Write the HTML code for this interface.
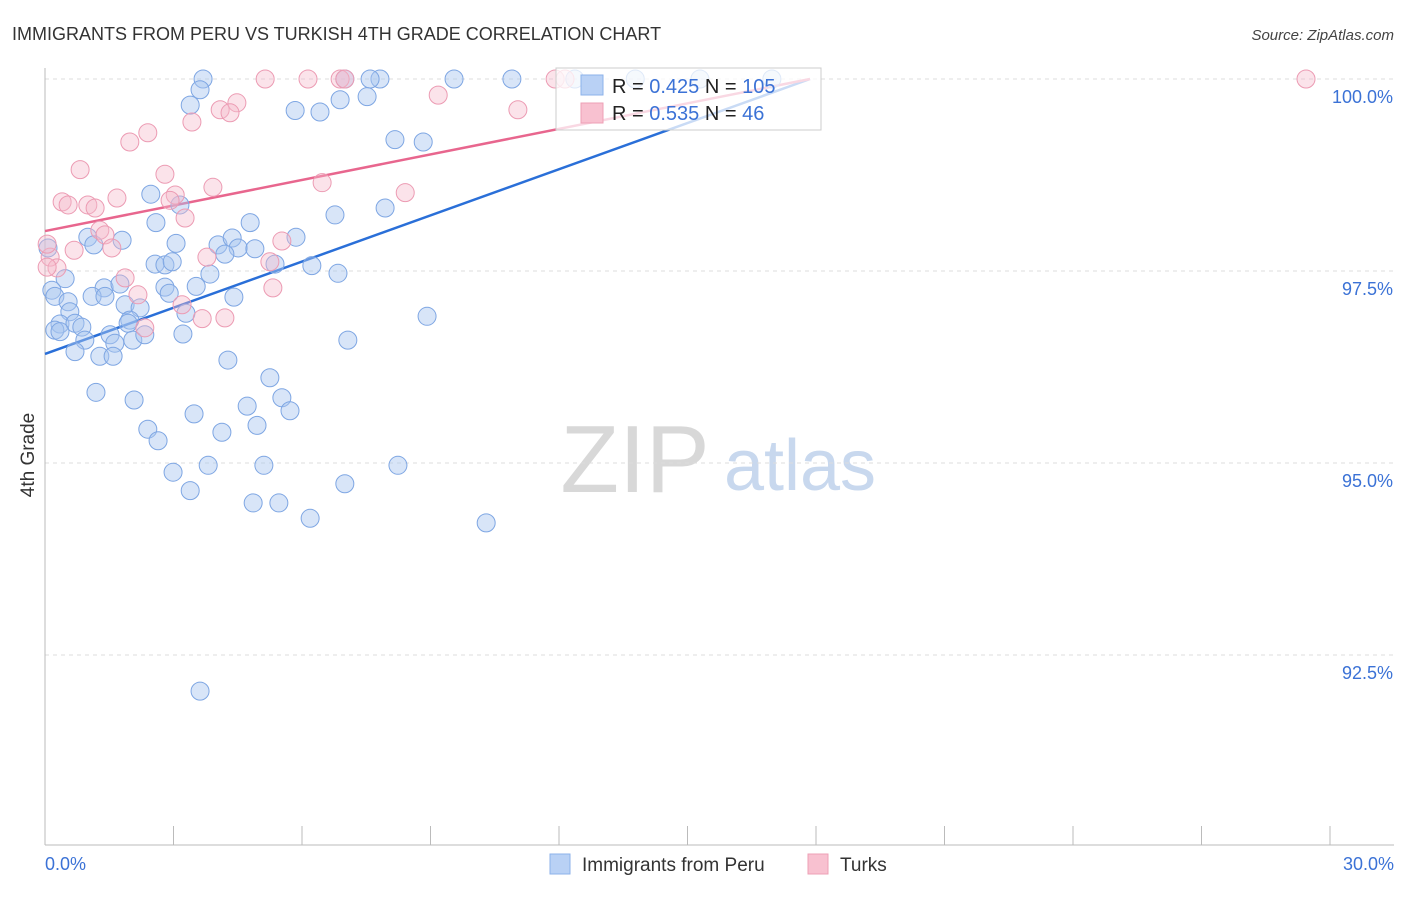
<!DOCTYPE html>
<html><head><meta charset="utf-8"><style>
body{margin:0;background:#fff;font-family:"Liberation Sans",sans-serif}
svg text{font-family:"Liberation Sans",sans-serif}
</style></head><body>
<svg id="chart" width="1406" height="892" viewBox="0 0 1406 892" xmlns="http://www.w3.org/2000/svg">
<text x="12" y="40" font-size="18" fill="#333">IMMIGRANTS FROM PERU VS TURKISH 4TH GRADE CORRELATION CHART</text>
<text x="1394" y="40" font-size="15" fill="#444" text-anchor="end" font-style="italic">Source: ZipAtlas.com</text>
<g>
<text x="635" y="492" font-size="96" fill="#d8d8d8" text-anchor="middle" font-family="Liberation Serif,serif">ZIP</text>
<text x="800" y="490" font-size="72" fill="#c8d8ee" text-anchor="middle">atlas</text>
</g>
<g id="grid"></g>
<g id="axes"></g>
<g id="lines"></g>
<g id="points"></g>
<g>
<rect x="556" y="68" width="265" height="62" fill="#fff" fill-opacity="0.75" stroke="#ccc"/>
<rect x="581" y="75" width="22" height="20" fill="#b9d1f5" stroke="#8cb2ea"/>
<text x="612" y="93" font-size="20" fill="#222">R = <tspan fill="#3b72d6">0.425</tspan>  N = <tspan fill="#3b72d6">105</tspan></text>
<rect x="581" y="103" width="22" height="20" fill="#f8c1d0" stroke="#eea0b6"/>
<text x="612" y="120" font-size="20" fill="#222">R = <tspan fill="#3b72d6">0.535</tspan>  N = <tspan fill="#3b72d6">  46</tspan></text>
</g>
<g>
<rect x="550" y="854" width="20" height="20" fill="#b9d1f5" stroke="#8cb2ea"/>
<text x="582" y="871" font-size="19" fill="#333">Immigrants from Peru</text>
<rect x="808" y="854" width="20" height="20" fill="#f8c1d0" stroke="#eea0b6"/>
<text x="840" y="871" font-size="19" fill="#333">Turks</text>
</g>
<text transform="translate(34,455) rotate(-90)" font-size="19" fill="#333" text-anchor="middle">4th Grade</text>
</svg>
<script>
const yTicks=[100,97.5,95,92.5];
const yTickLabels=["100.0%","97.5%","95.0%","92.5%"];
const xTicks=[0,3,6,9,12,15,18,21,24,27,30];
const peruX=[3.69,9.55,10.90,7.82,7.59,7.00,12.37,13.78,15.29,16.97,3.62,3.39,5.84,6.42,6.89,7.52,8.17,8.83,2.47,3.15,2.59,4.79,6.77,7.94,1.00,1.80,1.14,3.06,4.04,4.37,4.51,4.90,4.20,5.86,0.07,2.57,2.80,2.97,3.85,5.37,6.23,6.84,0.47,1.38,1.75,0.16,0.23,1.10,1.40,2.80,2.90,3.53,4.41,0.54,1.87,2.22,3.29,0.58,0.35,0.23,0.70,0.86,1.98,0.35,1.94,1.52,0.93,1.63,2.05,2.33,3.22,0.70,1.28,1.59,7.07,8.92,4.27,5.25,1.19,2.08,5.53,4.72,5.72,3.48,2.40,4.13,4.95,2.64,2.99,3.81,5.11,8.24,7.00,3.39,4.86,5.46,6.19,10.30,3.62];
const peruY=[100,100,100,100,100,100,100,100,100,100,99.86,99.66,99.59,99.57,99.73,99.77,99.21,99.18,98.50,98.36,98.13,98.13,98.23,98.32,97.94,97.90,97.84,97.86,97.84,97.93,97.80,97.79,97.72,97.94,97.80,97.59,97.58,97.62,97.46,97.59,97.57,97.47,97.40,97.28,97.33,97.25,97.17,97.17,97.17,97.29,97.21,97.30,97.16,97.10,97.06,97.02,96.95,96.97,96.81,96.73,96.82,96.77,96.86,96.71,96.82,96.67,96.60,96.56,96.60,96.67,96.68,96.45,96.39,96.39,96.60,96.91,96.34,96.11,95.92,95.82,95.85,95.74,95.68,95.64,95.44,95.40,95.49,95.29,94.88,94.97,94.97,94.97,94.73,94.64,94.48,94.48,94.28,94.22,92.03];
const turkX=[5.14,6.14,6.89,7.00,11.91,12.14,29.44,9.18,4.48,4.09,4.32,11.04,3.43,2.40,1.98,0.82,2.80,3.92,6.47,8.41,0.40,3.04,0.54,1.00,1.17,1.68,2.92,3.27,1.28,1.40,5.53,0.68,1.56,3.78,0.12,5.25,0.28,1.87,5.32,2.17,3.20,3.67,4.20,2.33,0.05,0.05];
const turkY=[100,100,100,100,100,100,100,99.79,99.69,99.60,99.56,99.60,99.44,99.30,99.18,98.82,98.76,98.59,98.65,98.52,98.40,98.49,98.36,98.36,98.32,98.45,98.42,98.19,98.03,97.97,97.89,97.77,97.80,97.68,97.68,97.62,97.54,97.41,97.28,97.19,97.06,96.88,96.89,96.76,97.85,97.55];
const peruTrendX=[0,17.86], peruTrendY=[96.42,100];
const turkTrendX=[0,17.86], turkTrendY=[98.02,100];
const X0=45,X1=1330,Y0=79,PX=(X1-X0)/30,PY=76.8;
const sx=v=>X0+v*PX, sy=v=>Y0+(100-v)*PY;
const NS="http://www.w3.org/2000/svg";
function mk(tag,attrs,parent){const e=document.createElementNS(NS,tag);for(const k in attrs)e.setAttribute(k,attrs[k]);document.getElementById(parent).appendChild(e);return e;}
yTicks.forEach((t,i)=>{
 const l=mk('line',{x1:X0,x2:1394,y1:sy(t),y2:sy(t),stroke:'#ddd','stroke-dasharray':'4,4'},'grid');
 
 
 const tx=mk('text',{x:1393,y:sy(t)+24,'font-size':18,fill:'#3b72d6','text-anchor':'end'},'axes');
 tx.textContent=yTickLabels[i];
 
 
});
const ax=mk('line',{x1:X0,x2:X0,y1:68,y2:845,stroke:'#bbb'},'axes');


const bx=mk('line',{x1:X0,x2:1394,y1:845,y2:845,stroke:'#bbb'},'axes');


xTicks.forEach(t=>{
 const l=mk('line',{x1:sx(t),x2:sx(t),y1:826,y2:845,stroke:'#bbb'},'axes');
 
 
});
const xl0=mk('text',{x:45,y:870,'font-size':18,fill:'#3b72d6'},'axes');xl0.textContent='0.0%';


const xl1=mk('text',{x:1394,y:870,'font-size':18,fill:'#3b72d6','text-anchor':'end'},'axes');xl1.textContent='30.0%';


peruX.forEach((v,i)=>{
 const c=mk('circle',{cx:sx(v),cy:sy(peruY[i]),r:9,fill:'#a9c6f0','fill-opacity':0.45,stroke:'#7ea6e3','stroke-width':1},'points');
 
 
});
turkX.forEach((v,i)=>{
 const c=mk('circle',{cx:sx(v),cy:sy(turkY[i]),r:9,fill:'#f6b8cb','fill-opacity':0.4,stroke:'#ec9bb3','stroke-width':1},'points');
 
 
});
const tl1=mk('line',{x1:sx(peruTrendX[0]),y1:sy(peruTrendY[0]),x2:sx(peruTrendX[1]),y2:sy(peruTrendY[1]),stroke:'#2a6fd8','stroke-width':2.5},'lines');


const tl2=mk('line',{x1:sx(turkTrendX[0]),y1:sy(turkTrendY[0]),x2:sx(turkTrendX[1]),y2:sy(turkTrendY[1]),stroke:'#e8668e','stroke-width':2.5},'lines');


</script>
</body></html>
